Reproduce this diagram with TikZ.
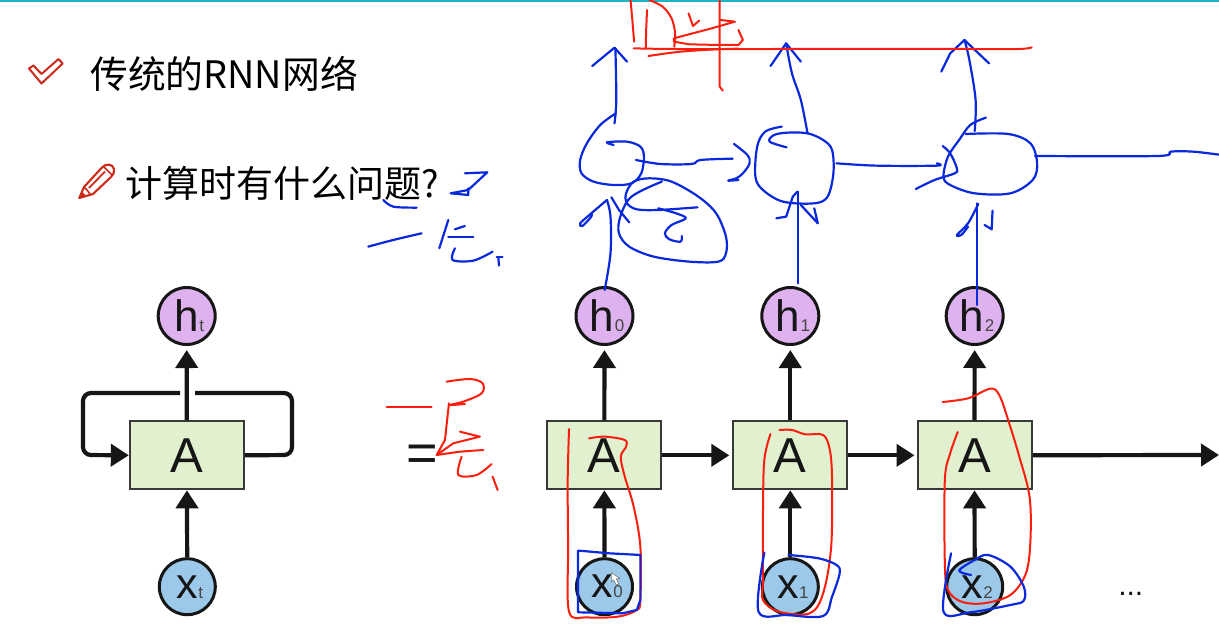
\documentclass[tikz,border=0pt]{standalone}
\usepackage{fontspec}
\setmainfont{Liberation Sans}
\newfontfamily\cjk{Noto Sans CJK SC}
\usetikzlibrary{arrows.meta}
\definecolor{hw-blue}{HTML}{0A28DC}
\definecolor{hw-red}{HTML}{FA1E0F}
\definecolor{icon-red}{HTML}{CC2A1A}
\definecolor{hfill}{HTML}{DDB2EE}
\definecolor{xfill}{HTML}{9CC8EA}
\definecolor{boxfill}{HTML}{E1F0CF}
\definecolor{ink}{HTML}{161616}
\definecolor{teal}{HTML}{1DB4C4}
\tikzset{
  hcirc/.style={circle,draw=ink,line width=3pt,fill=hfill,minimum size=57pt,inner sep=0pt,font=\fontsize{44}{44}\selectfont,text=ink},
  xcirc/.style={circle,draw=ink,line width=3pt,fill=xfill,minimum size=56pt,inner sep=0pt,font=\fontsize{43}{43}\selectfont,text=ink},
  abox/.style={rectangle,draw=ink!85,line width=2pt,fill=boxfill,minimum width=114pt,minimum height=68pt,inner sep=0pt,font=\fontsize{49}{49}\selectfont,text=ink},
  conn/.style={draw=ink,line width=4.2pt,-{Triangle[width=22pt,length=18pt]}},
  plain/.style={draw=ink,line width=4.2pt},
  blue/.style={draw=hw-blue,line width=2.2pt,line cap=round,line join=round},
  red/.style={draw=hw-red,line width=2pt,line cap=round,line join=round},
  zoomR/.style={shift={(520,0)},x=0.4458pt,y=-0.3333pt},
  zoomB/.style={shift={(520,280)},x=0.4458pt,y=-0.3333pt},
  zoomL/.style={shift={(0,0)},x=0.3333pt,y=-0.3333pt},
  zoomE/.style={shift={(60,280)},x=0.3333pt,y=-0.3333pt}
}
\newcommand{\subs}[1]{{\fontsize{17}{17}\selectfont\color{ink!80}\hspace{0.5pt}#1}}
\newcommand{\lift}{\hspace*{5pt}}
\newcommand{\hand}[2]{\draw[#1] plot[smooth,tension=0.55] coordinates {#2};}
\newcommand{\poly}[2]{\draw[#1] plot coordinates {#2};}
\begin{document}
\begin{tikzpicture}[x=1pt,y=-1pt]
\useasboundingbox (0,0) rectangle (1219,627);
\fill[white] (0,0) rectangle (1219,627);
\fill[teal] (0,0) rectangle (1219,1.6);

% icons
\draw[icon-red,line width=2pt,line join=round,fill=white]
  (29,68.5) -- (33.5,65.5) -- (41.5,74) -- (58.5,59) -- (62.7,63.5) -- (41.5,83.5) -- cycle;
\draw[icon-red,line width=2.1pt,line join=round,fill=white]
  (79.3,198) -- (84,187) -- (102,167.5) .. controls (106,163) and (113,164) .. (114,169)
  .. controls (115,172) and (113,175) .. (111,177) -- (93,194) -- cycle;
\fill[icon-red] (79.3,198) -- (81.5,191) -- (86,195.5) -- cycle;
\draw[icon-red,line width=1.8pt] (89,188) -- (105,171.5);
\draw[icon-red,line width=1.6pt] (84,187) -- (87,190) -- (90,194);
\draw[icon-red,line width=1.5pt] (103,166) -- (112,175);

% headings
\node[anchor=west,inner sep=0pt,font={\cjk\fontsize{37.8}{38}\selectfont},text=black] (title) at (90,74) {传统的RNN网络};
\node[anchor=west,inner sep=0pt,font={\cjk\fontsize{37}{37}\selectfont},text=black] (question) at (125.5,183) {计算时有什么问题?};

% left network
\node[hcirc] (ht) at (186.7,316) {\lift h\subs{t}};
\node[abox] (At) at (186.8,455.3) {A};
\node[xcirc] (xt) at (187.3,586.7) {\lift x\subs{t}};
\draw[conn,shorten >=4pt] (At) -- (ht);
\draw[conn] (xt) -- (At);
\coordinate (loopTR) at (292,393);
\coordinate (loopBR) at (292,455);
\coordinate (loopTL) at (83,393);
\coordinate (loopBL) at (83,455);
\coordinate (gapR) at (195,393);
\coordinate (gapL) at (180,393);
\draw[plain,rounded corners=8pt] (At.east) -- (loopBR) -- (loopTR) -- (gapR);
\draw[conn,rounded corners=8pt] (gapL) -- (loopTL) -- (loopBL) -- (At.west);

% equals
\node[inner sep=0pt,font=\fontsize{54}{54}\selectfont,text=ink] (eq) at (422.5,458.5) {=};

% right network
\foreach \n/\cx/\lab in {0/604.5/0,1/790.3/1,2/974.7/2}{
  \node[hcirc] (h\n) at (\cx,316) {\lift h\subs{\lab}};
  \node[xcirc] (x\n) at (\cx,586.7) {\lift x\subs{\lab}};
}
\node[abox] (A0) at (604.3,455.3) {A};
\node[abox] (A1) at (790.3,455.3) {A};
\node[abox] (A2) at (974.5,455.3) {A};
\coordinate (out) at (1219,455);
\foreach \n in {0,1,2}{
  \draw[conn] (x\n) -- (A\n);
  \draw[conn,shorten >=4pt] (A\n) -- (h\n);
}
\draw[conn,shorten >=3pt] (A0) -- (A1);
\draw[conn,shorten >=2pt] (A1) -- (A2);
\draw[conn] (A2) -- (out);
\node[inner sep=0pt,font=\fontsize{30}{30}\selectfont,text=ink] (dots) at (1130.8,594) {...};

% blue handwriting, upper right
\begin{scope}[zoomR]
\hand{blue}{(212,370)(216,300)(214,145)}
\poly{blue}{(162,198)(212,143)(240,185)}
\hand{blue}{(215,340)(180,375)(150,430)(135,480)(138,520)(165,545)(210,555)(250,550)(272,520)(278,470)(270,440)(240,425)(195,427)(210,435)}
\hand{blue}{(260,480)(315,492)(385,492)(405,480)(477,476)}
\hand{blue}{(480,432)(510,465)(515,490)(500,520)(485,535)(467,542)(490,540)}
\hand{blue}{(318,545)(250,590)(225,650)(222,700)(245,740)(300,770)(380,785)(445,785)(462,760)(462,710)(440,640)(400,590)(340,545)(290,535)(255,545)(238,580)(240,610)(262,628)(310,630)(398,622)}
\hand{blue}{(310,625)(350,640)(372,655)(340,675)(325,700)(335,718)(360,725)(363,708)}
\poly{blue}{(205,592)(222,630)(245,667)}
\hand{blue}{(190,870)(203,760)(203,650)(195,600)}
\hand{blue}{(195,600)(160,640)(135,670)(140,678)(160,650)(160,642)}
\hand{blue}{(587,380)(550,395)(532,440)(528,530)(545,570)(590,605)(660,610)(690,590)(703,520)(700,450)(680,420)(645,400)(600,398)(570,405)(560,425)(598,442)}
\hand{blue}{(645,400)(630,300)(610,220)(597,130)}
\poly{blue}{(562,198)(597,130)(630,185)}
\hand{blue}{(710,490)(800,497)(935,497)(935,490)}
\hand{blue}{(948,438)(965,460)(980,505)(975,520)(930,540)(888,567)}
\hand{blue}{(1045,353)(1010,375)(985,420)(960,470)(950,530)(965,555)(1020,580)(1100,580)(1150,540)(1160,490)(1145,430)(1095,402)(1000,402)}
\hand{blue}{(1020,393)(1022,300)(1008,180)(997,120)}
\poly{blue}{(945,215)(965,160)(997,120)(1052,190)}
\hand{blue}{(1155,468)(1430,468)(1460,455)(1510,455)(1568,464)}
\poly{blue}{(623,850)(623,575)}
\poly{blue}{(575,655)(597,650)(612,590)(622,575)}
\poly{blue}{(630,615)(668,670)(660,625)}
\poly{blue}{(1025,915)(1025,610)}
\hand{blue}{(1028,612)(1005,670)(980,705)(990,705)(1005,680)}
\poly{blue}{(1060,632)(1058,688)(1042,675)}
% red handwriting, top
\poly{red}{(248,0)(252,60)(256,125)}
\poly{red}{(285,30)(283,90)(282,145)}
\hand{red}{(255,145)(350,147)(600,147)(1000,147)(1120,147)(1148,142)}
\hand{red}{(290,0)(320,20)(340,55)(348,100)(346,140)}
\poly{red}{(378,40)(388,78)(402,62)}
\poly{red}{(450,60)(482,65)(430,85)(345,115)(345,125)(380,133)(445,135)(490,135)(500,120)(490,90)}
\hand{red}{(288,168)(360,155)(440,148)(490,146)}
\poly{red}{(448,0)(448,150)(448,260)(455,272)}
\end{scope}

% blue handwriting next to the question
\begin{scope}[zoomL]
\hand{blue}{(1150,600)(1180,620)(1250,623)}
\poly{blue}{(1395,520)(1462,517)(1405,570)(1352,580)(1405,585)(1405,565)}
\hand{blue}{(1105,740)(1180,720)(1265,700)}
\poly{blue}{(1345,660)(1318,745)}
\poly{blue}{(1395,678)(1365,688)}
\poly{blue}{(1345,712)(1420,712)}
\hand{blue}{(1365,745)(1358,780)(1420,782)(1478,755)}
\poly{blue}{(1495,770)(1497,797)}
\poly{blue}{(1490,772)(1508,772)}
\end{scope}

% handwriting over the lower network
\begin{scope}[zoomB]
\hand{red}{(110,447)(107,600)(108,800)(110,995)(150,1012)(220,1010)(262,990)(270,960)(270,800)(255,680)(235,590)(226,530)(238,500)(235,480)(190,470)(155,475)}
\hand{red}{(562,462)(548,540)(545,700)(545,900)(545,960)(580,995)(650,1000)(680,940)(698,800)(700,600)(695,510)(680,465)(640,463)(610,450)(582,450)}
\hand{red}{(982,456)(965,520)(953,600)(953,850)(960,930)(990,965)(1040,970)(1100,945)(1135,880)(1145,780)(1143,650)(1120,530)(1095,420)(1075,345)(1055,326)(1005,355)(948,366)}
\poly{blue}{(132,812)(200,820)(270,825)(270,960)(262,990)(230,1000)(130,997)(130,812)}
\hand{blue}{(548,818)(535,995)(600,1005)(680,1008)(700,950)(717,880)(710,855)(670,835)(602,825)}
\hand{blue}{(967,820)(950,995)(1010,997)(1100,975)(1130,962)(1130,920)(1100,860)(1050,825)(1020,840)(985,872)(1012,885)}
\draw[fill=white,draw=black!55,line width=0.6pt] (205,878) -- (205,905) -- (210,900) -- (216,915) -- (222,912) -- (216,897) -- (224,895) -- cycle;
\end{scope}

% red handwriting near the equals sign
\begin{scope}[zoomE]
\poly{red}{(980,380)(1115,380)}
\hand{red}{(1160,305)(1230,297)(1268,310)(1265,340)(1210,365)(1170,375)(1215,372)}
\poly{red}{(1167,370)(1155,480)(1130,525)(1180,490)(1260,470)(1200,455)}
\poly{red}{(1130,525)(1200,515)(1270,510)}
\hand{red}{(1205,530)(1195,585)(1250,585)(1295,552)}
\poly{red}{(1298,590)(1313,630)}
\end{scope}
\end{tikzpicture}
\end{document}
